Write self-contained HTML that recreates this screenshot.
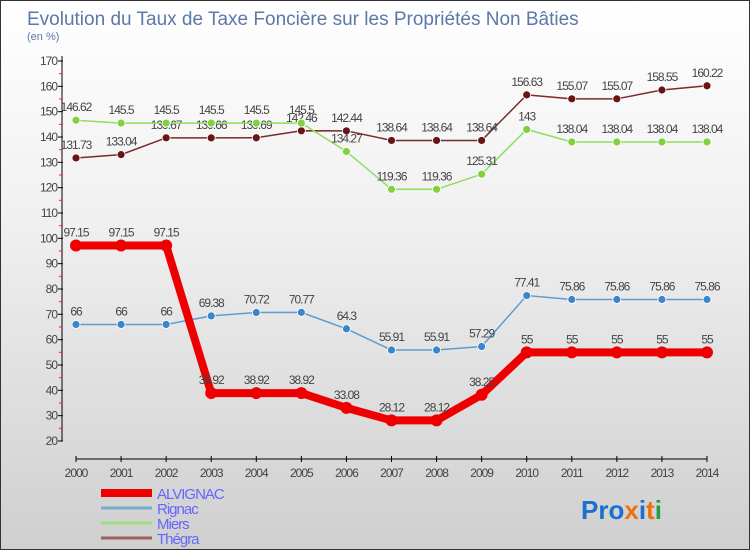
<!DOCTYPE html>
<html><head><meta charset="utf-8"><style>
body{margin:0}
#c{width:750px;height:550px;position:relative;background:linear-gradient(#ffffff,#f0f0f0 40%,#cfcfcf);box-sizing:border-box;border:1px solid #333;font-family:"Liberation Sans",sans-serif;overflow:hidden}
</style></head><body>
<div id="c">
<svg id="s" width="750" height="550" style="position:absolute;left:0;top:0">
<text x="26" y="24" font-size="19" fill="#5a78a8">Evolution du Taux de Taxe Foncière sur les Propriétés Non Bâties</text>
<text x="26" y="39" font-size="11" fill="#5a78a8">(en %)</text>
<text x="580" y="518" font-size="26" font-weight="bold"><tspan fill="#1a6fd0">Pro</tspan><tspan fill="#f07010">x</tspan><tspan fill="#1a6fd0">i</tspan><tspan fill="#f07010">t</tspan><tspan fill="#20a040">i</tspan></text>
</svg>
</div>
<script>
const years=["2000","2001","2002","2003","2004","2005","2006","2007","2008","2009","2010","2011","2012","2013","2014"];
const yTicks=[20,30,40,50,60,70,80,90,100,110,120,130,140,150,160,170];
const alvignac=[97.15,97.15,97.15,38.92,38.92,38.92,33.08,28.12,28.12,38.25,55,55,55,55,55];
const rignac=[66,66,66,69.38,70.72,70.77,64.3,55.91,55.91,57.29,77.41,75.86,75.86,75.86,75.86];
const miers=[146.62,145.5,145.5,145.5,145.5,145.5,134.27,119.36,119.36,125.31,143,138.04,138.04,138.04,138.04];
const thegra=[131.73,133.04,139.67,139.66,139.69,142.46,142.44,138.64,138.64,138.64,156.63,155.07,155.07,158.55,160.22];
const NS="http://www.w3.org/2000/svg",s=document.getElementById('s');
const X=i=>75+i*(706-75)/(years.length-1);
const Y=v=>440-(v-20)*380/150;
function el(t,a,p){const e=document.createElementNS(NS,t);for(const k in a)e.setAttribute(k,a[k]);(p||s).appendChild(e);return e;}
let ax=el('line',{x1:61,y1:55,x2:61,y2:440,stroke:'#000'});

let xa=el('line',{x1:75,y1:458,x2:706,y2:458,stroke:'#000'});

yTicks.forEach(v=>{
 el('line',{x1:57,y1:Y(v),x2:62,y2:Y(v),stroke:'#000'});
 if(v<170){const m=el('line',{x1:58,y1:Y(v+5),x2:62,y2:Y(v+5),stroke:'#e03030'});}
 const t=el('text',{x:56,y:Y(v)+4,'font-size':12,'text-anchor':'end',fill:'#444','letter-spacing':'-1'});t.textContent=v;
 
});
years.forEach((y,i)=>{
 el('line',{x1:X(i),y1:455,x2:X(i),y2:461,stroke:'#000'});
 const t=el('text',{x:X(i),y:476,'font-size':12,'text-anchor':'middle',fill:'#444','letter-spacing':'-1'});t.textContent=y;
 
});
function series(name,data,col,w,r,dot){
 const g=el('g',{});
 el('polyline',{points:data.map((v,i)=>X(i)+','+Y(v)).join(' '),fill:'none',stroke:col,'stroke-width':w,'stroke-linejoin':'round'},g);
 data.forEach((v,i)=>{
  const c=el('circle',{cx:X(i),cy:Y(v),r:r,fill:dot,stroke:'#fff','stroke-width':w>3?0:0.8},g);
  
  const t=el('text',{x:X(i),y:Y(v)-9,'font-size':12,'text-anchor':'middle',fill:'#444','letter-spacing':'-1'},g);t.textContent=v;
  
 });
}
series('thegra',thegra,'#7a2a2a',1.5,4,'#6a1515');
series('miers',miers,'#90dd60',1.5,4,'#80d040');
series('rignac',rignac,'#5d9ccf',1.5,4,'#3a86c8');
series('alvignac',alvignac,'#ee0000',8,6,'#ee0000');
const leg=[['ALVIGNAC','#ee0000',8],['Rignac','#7aaad0',3],['Miers','#a0dd80',3],['Thégra','#a06060',3]];
leg.forEach((l,i)=>{
 const y=492+i*15;
 const g=el('g',{});
 el('line',{x1:100,y1:y,x2:151,y2:y,stroke:l[1],'stroke-width':l[2]},g);
 const t=el('text',{x:156,y:y+6,'font-size':15,fill:'#6666ff','letter-spacing':'-1'},g);t.textContent=l[0];
});
</script>
</body></html>
